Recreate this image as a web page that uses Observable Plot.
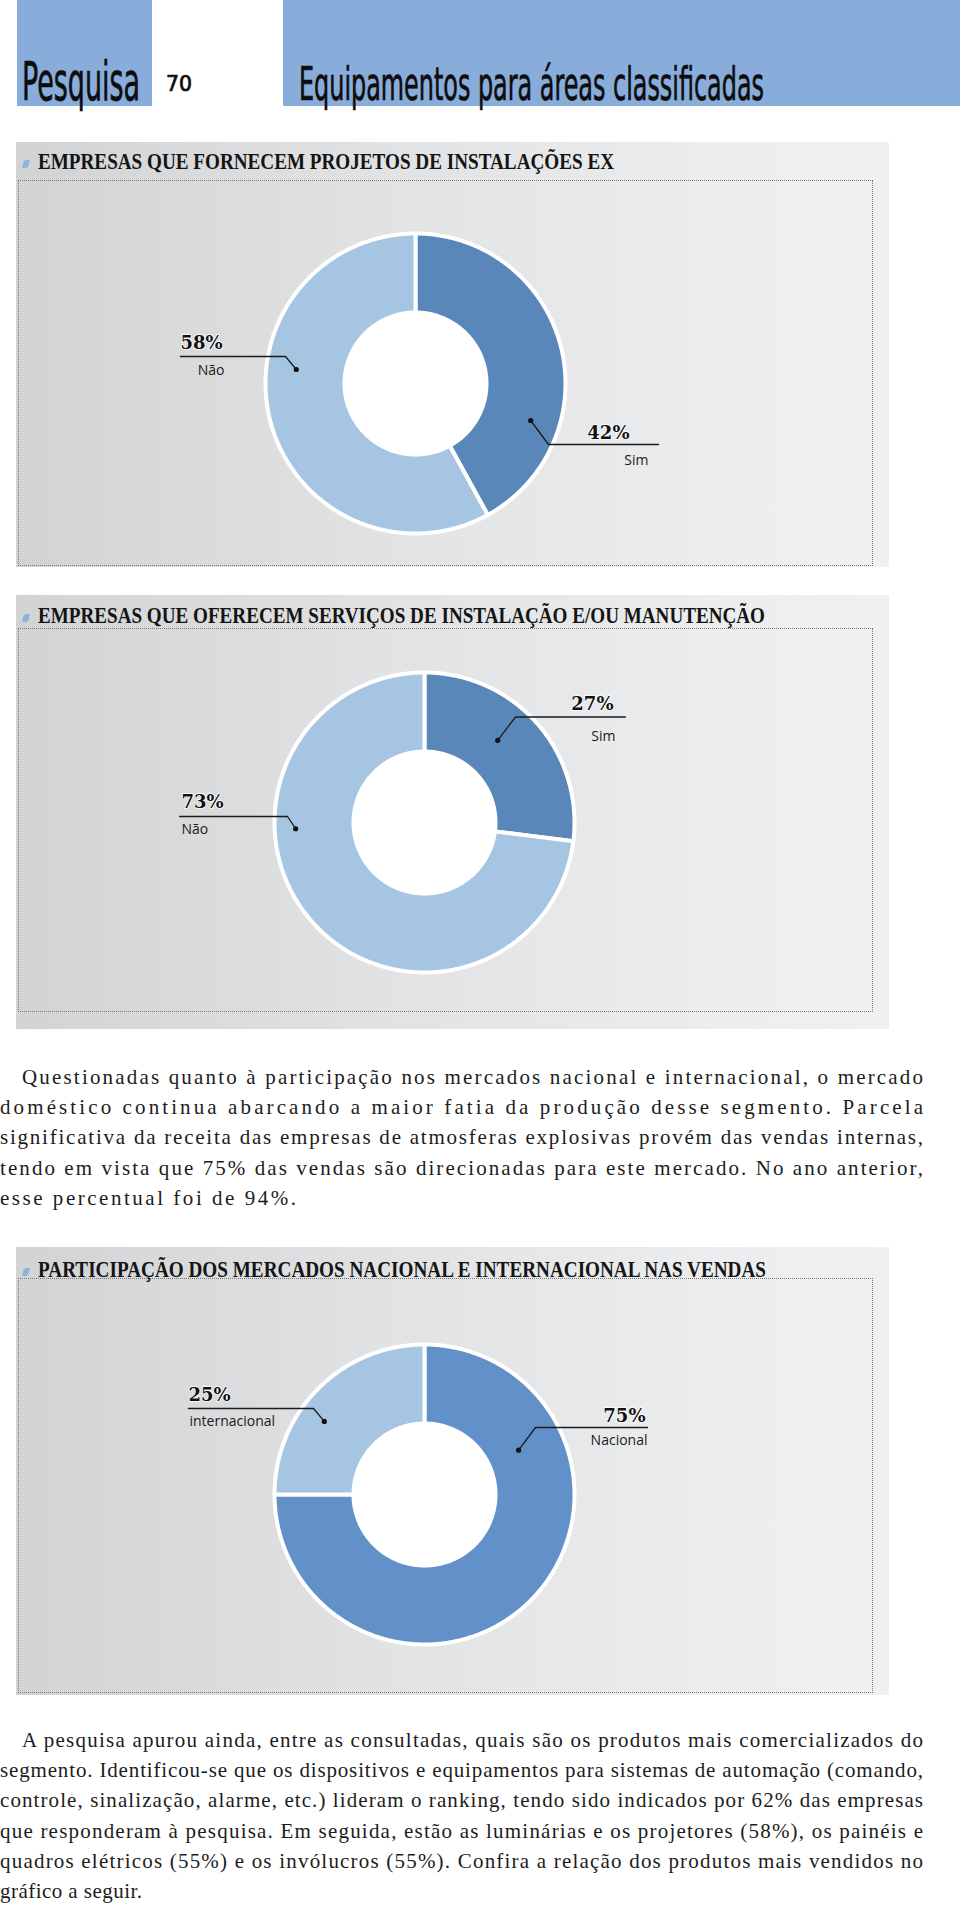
<!DOCTYPE html>
<html><head><meta charset="utf-8">
<script src="https://cdn.jsdelivr.net/npm/d3@7"></script>
<script src="https://cdn.jsdelivr.net/npm/@observablehq/plot@0.6"></script>
<style>
html,body{margin:0;padding:0;background:#fff;}
#page{position:relative;width:960px;height:1906px;overflow:hidden;}
.abs{position:absolute;white-space:nowrap;line-height:1;}
.block{background:#89addb;}
.hdr{font-family:"Liberation Sans Narrow","DejaVu Sans Condensed",sans-serif;color:#0d0d0d;-webkit-text-stroke:0.7px #0d0d0d;}
.panel{background:linear-gradient(to right,#d2d3d5 0%,#e2e3e4 45%,#edeeef 85%,#f0f0f0 100%);}
.frame{border:1px dotted #7a7a7a;box-sizing:border-box;}
.ptitle{font-family:"Liberation Serif",serif;font-weight:bold;font-size:23px;color:#141414;}
.icon{background:#8fb2dd;border-radius:3px 0 3px 0;transform:skewX(-12deg);}
.para{font-family:"Liberation Serif",serif;font-size:21px;color:#1c1c1c;}
</style>
</head><body><div id="page"></div>
<script>
// ---------- data ----------
const chart1Title = "EMPRESAS QUE FORNECEM PROJETOS DE INSTALAÇÕES EX";
const chart1Categories = ["Sim", "Não"];
const chart1Values = [42, 58];
const chart2Title = "EMPRESAS QUE OFERECEM SERVIÇOS DE INSTALAÇÃO E/OU MANUTENÇÃO";
const chart2Categories = ["Sim", "Não"];
const chart2Values = [27, 73];
const chart3Title = "PARTICIPAÇÃO DOS MERCADOS NACIONAL E INTERNACIONAL NAS VENDAS";
const chart3Categories = ["Nacional", "internacional"];
const chart3Values = [75, 25];

const paragraph1 = [
  "Questionadas quanto à participação nos mercados nacional e internacional, o mercado",
  "doméstico continua abarcando a maior fatia da produção desse segmento. Parcela",
  "significativa da receita das empresas de atmosferas explosivas provém das vendas internas,",
  "tendo em vista que 75% das vendas são direcionadas para este mercado. No ano anterior,",
  "esse percentual foi de 94%."
];
const paragraph2 = [
  "A pesquisa apurou ainda, entre as consultadas, quais são os produtos mais comercializados do",
  "segmento. Identificou-se que os dispositivos e equipamentos para sistemas de automação (comando,",
  "controle, sinalização, alarme, etc.) lideram o ranking, tendo sido indicados por 62% das empresas",
  "que responderam à pesquisa. Em seguida, estão as luminárias e os projetores (58%), os painéis e",
  "quadros elétricos (55%) e os invólucros (55%). Confira a relação dos produtos mais vendidos no",
  "gráfico a seguir."
];

// ---------- helpers ----------
const page = document.getElementById("page");
function box(cls, x, y, w, h) {
  const d = document.createElement("div");
  d.className = "abs " + cls;
  Object.assign(d.style, {left: x + "px", top: y + "px", width: w + "px", height: h + "px"});
  page.append(d);
  return d;
}
function put(text, x, baseline, cls, opts = {}) {
  const {width = null, mode = "scale", size = null} = opts;
  const d = document.createElement("div");
  d.className = "abs " + cls;
  d.style.left = x + "px"; d.style.top = "0px";
  if (size) d.style.fontSize = size + "px";
  const s = document.createElement("span");
  s.textContent = text;
  const m = document.createElement("i");
  m.style.cssText = "display:inline-block;width:0;height:0;vertical-align:baseline";
  d.append(s, m);
  page.append(d);
  const base = m.offsetTop;
  d.style.top = (baseline - base) + "px";
  if (width) {
    const w = s.getBoundingClientRect().width;
    if (mode === "scale") {
      d.style.transformOrigin = `0 ${base}px`;
      d.style.transform = `scaleX(${width / w})`;
    } else {
      s.style.letterSpacing = ((width - w) / (text.length - 1)) + "px";
    }
  }
  return d;
}

// ---------- header ----------
box("block", 17, 0, 135, 106);
box("block", 283, 0, 677, 106);
put("Pesquisa", 22, 100, "hdr", {size: 54, width: 118});
put("70", 166, 91, "hdr", {size: 22, width: 26});
put("Equipamentos para áreas classificadas", 299, 100, "hdr", {size: 46, width: 465});

// ---------- panels ----------
const panels = [
  {title: chart1Title, titleW: 576, top: 142, bottom: 567, frameTop: 180, frameBottom: 566, titleBase: 169},
  {title: chart2Title, titleW: 727, top: 595, bottom: 1029, frameTop: 628, frameBottom: 1012, titleBase: 623},
  {title: chart3Title, titleW: 728, top: 1247, bottom: 1695, frameTop: 1278, frameBottom: 1693, titleBase: 1277}
];
panels.forEach(p => {
  box("panel", 16, p.top, 873, p.bottom - p.top);
  box("frame", 18, p.frameTop, 855, p.frameBottom - p.frameTop);
  box("icon", 23, p.titleBase - 9, 6, 8);
  put(p.title, 38, p.titleBase, "ptitle", {width: p.titleW});
});

// ---------- donuts ----------
const PCT_FONT = {fontFamily: "DejaVu Serif, serif", fontWeight: "bold", fontSize: 18, fill: "#111", stroke: "white", strokeWidth: 1.5};
const NAME_FONT = {fontFamily: "Open Sans, sans-serif", fontSize: 14, fill: "#1a1a1a"};

function donut({categories, values, colors, panel, cx, cy, R, r, labels}) {
  const top = panel.frameTop, height = panel.frameBottom - panel.frameTop;
  const arcs = d3.pie().sort(null).value(d => d)(values);
  const slices = [];
  arcs.forEach((a, i) => {
    const n = Math.max(12, Math.ceil((a.endAngle - a.startAngle) / 0.01));
    for (let k = 0; k <= n; k++) {
      const t = a.startAngle + (a.endAngle - a.startAngle) * k / n;
      slices.push({key: categories[i], color: colors[i], x: cx + R * Math.sin(t), y: cy - R * Math.cos(t)});
    }
    for (let k = n; k >= 0; k--) {
      const t = a.startAngle + (a.endAngle - a.startAngle) * k / n;
      slices.push({key: categories[i], color: colors[i], x: cx + r * Math.sin(t), y: cy - r * Math.cos(t)});
    }
  });
  const leaders = [], dots = [], pcts = [], names = [];
  arcs.forEach((a, i) => {
    const L = labels[i];
    const ang = a.startAngle + L.t * (a.endAngle - a.startAngle);
    const dot = {key: categories[i], x: cx + L.rr * Math.sin(ang), y: cy - L.rr * Math.cos(ang)};
    dots.push(dot);
    leaders.push(dot, {key: categories[i], x: L.knee[0], y: L.knee[1]}, {key: categories[i], x: L.end[0], y: L.knee[1]});
    pcts.push({text: values[i] + "%", x: L.pct[0], y: L.pct[1], anchor: L.pctAnchor});
    names.push({text: categories[i], x: L.name[0], y: L.name[1], anchor: L.nameAnchor});
  });
  const textMarks = [...pcts.map(p => Plot.text([p], {x: "x", y: "y", text: "text", textAnchor: p.anchor, lineAnchor: "bottom", ...PCT_FONT})),
                     ...names.map(p => Plot.text([p], {x: "x", y: "y", text: "text", textAnchor: p.anchor, lineAnchor: "bottom", ...NAME_FONT}))];
  const svg = Plot.plot({
    width: 960, height, margin: 0,
    x: {domain: [0, 960], range: [0, 960], axis: null},
    y: {domain: [top, top + height], range: [0, height], axis: null},
    color: {type: "identity"},
    style: {background: "transparent", overflow: "visible"},
    marks: [
      Plot.line(slices, {x: "x", y: "y", z: "key", fill: "color", stroke: "white", strokeWidth: 4, curve: "linear-closed"}),
      Plot.dot([{x: cx, y: cy}], {x: "x", y: "y", r: r, fill: "white"}),
      Plot.line(leaders, {x: "x", y: "y", z: "key", stroke: "#1b1b1b", strokeWidth: 1.3}),
      Plot.dot(dots, {x: "x", y: "y", r: 2.6, fill: "#111"}),
      ...textMarks
    ]
  });
  svg.style.position = "absolute";
  svg.style.left = "0px";
  svg.style.top = top + "px";
  page.append(svg);
}

donut({
  categories: chart1Categories, values: chart1Values, colors: ["#5a87ba", "#a5c5e2"], panel: panels[0],
  cx: 415, cy: 383, R: 150, r: 71,
  labels: [
    {t: 0.713, rr: 121, knee: [548, 444], end: [658], pct: [629, 438], pctAnchor: "end", name: [648, 464], nameAnchor: "end"},
    {t: 0.601, rr: 120, knee: [285, 356], end: [180], pct: [180, 348], pctAnchor: "start", name: [224, 374], nameAnchor: "end"}
  ]
});
donut({
  categories: chart2Categories, values: chart2Values, colors: ["#5a87ba", "#a5c5e2"], panel: panels[1],
  cx: 424, cy: 822, R: 150, r: 71,
  labels: [
    {t: 0.429, rr: 110, knee: [515, 716.5], end: [625], pct: [613, 709], pctAnchor: "end", name: [615, 740], nameAnchor: "end"},
    {t: 0.647, rr: 129, knee: [287, 816], end: [179], pct: [181, 807], pctAnchor: "start", name: [181, 833], nameAnchor: "start"}
  ]
});
donut({
  categories: chart3Categories, values: chart3Values, colors: ["#6291ca", "#a5c5e2"], panel: panels[2],
  cx: 424, cy: 1494, R: 150, r: 71,
  labels: [
    {t: 0.240, rr: 104, knee: [535, 1427], end: [647], pct: [645, 1421], pctAnchor: "end", name: [647, 1444], nameAnchor: "end"},
    {t: 0.401, rr: 124, knee: [313, 1408], end: [188], pct: [188, 1400], pctAnchor: "start", name: [189, 1425], nameAnchor: "start"}
  ]
});

// ---------- paragraphs ----------
function paragraph(lines, firstBase, lastWidth) {
  lines.forEach((t, i) => {
    const x = i === 0 ? 22 : 0;
    const last = i === lines.length - 1;
    put(t, x, firstBase + i * 30.2, "para", {width: last ? lastWidth : 923 - x, mode: "spacing"});
  });
}
paragraph(paragraph1, 1084, 296);
paragraph(paragraph2, 1747, 142);
</script>
</body></html>
